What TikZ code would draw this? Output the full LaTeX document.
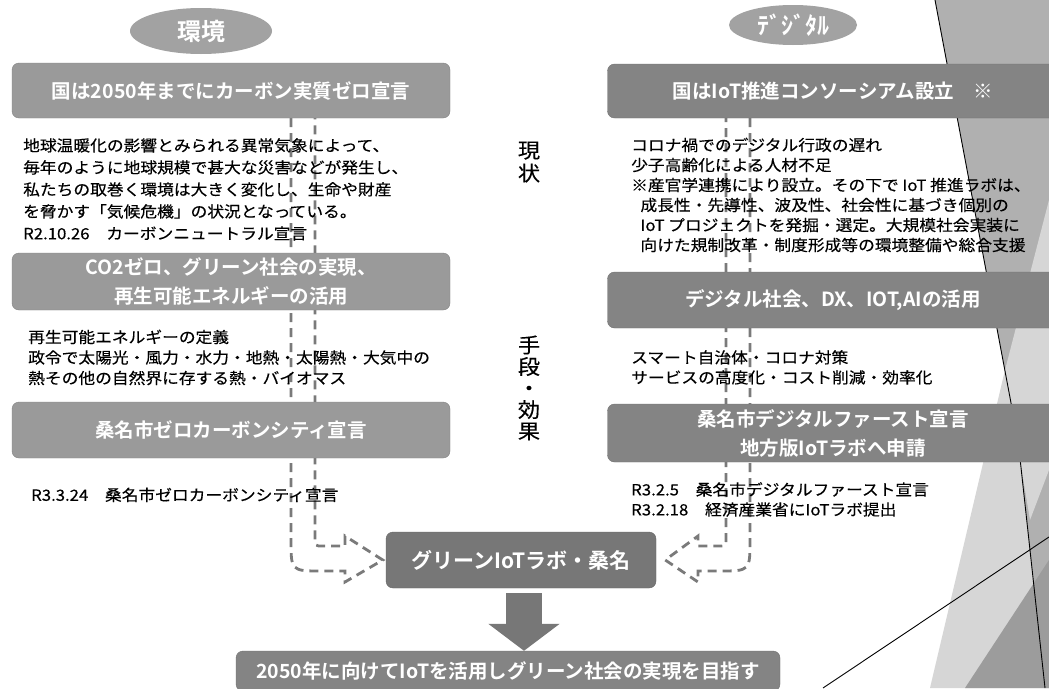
\documentclass[tikz,border=0pt]{standalone}
\usepackage{fontspec}
\setmainfont{Noto Sans CJK JP}[FakeStretch=1.08,FakeBold=0.3]
\newfontfamily\jpbold{Noto Sans CJK JP Bold}
\usetikzlibrary{positioning,shapes.geometric,arrows.meta,backgrounds}

\definecolor{lboxgrey}{HTML}{9A9A9A}
\definecolor{rboxgrey}{HTML}{848484}
\definecolor{labgrey}{HTML}{777777}
\definecolor{ovalgrey}{HTML}{A2A2A2}
\definecolor{dashgrey}{HTML}{7A7A7A}
\definecolor{slidegrey}{HTML}{B0B0B0}
\definecolor{slidelight}{HTML}{D6D6D6}
\definecolor{slidedark}{HTML}{9C9C9C}

\begin{document}
\begin{tikzpicture}[x=1pt,y=-1pt,
    oval/.style={ellipse,fill=ovalgrey,text=white,inner sep=0pt,font=\jpbold\fontsize{24}{26}\selectfont},
    lbox/.style={rectangle,rounded corners=7pt,fill=lboxgrey,draw=lboxgrey!85!black,text=white,align=center,inner sep=0pt,minimum width=438,font=\jpbold\fontsize{19.5}{29}\selectfont},
    rbox/.style={lbox,fill=rboxgrey,draw=rboxgrey!85!black,minimum width=451},
    bodytext/.style={anchor=north west,align=left,inner sep=0pt,font=\fontsize{15.5}{22}\selectfont},
    sidelabel/.style={align=center,inner sep=0pt,font=\fontsize{20.5}{23}\selectfont},
    hollowarrow/.style={draw=dashgrey,line width=2.8pt,dash pattern=on 9pt off 6pt},
    slideline/.style={draw=black,line width=0.9pt}]
  \useasboundingbox (0,0) rectangle (1049,688);

  % left column
  \node[oval,minimum width=142,minimum height=46] (kankyo) at (201,31) {環境};
  \node[lbox,minimum height=55] (kuni) at (231,90.5) {国は2050年までにカーボン実質ゼロ宣言};
  \node[bodytext] (genjoL) at (23,138) {地球温暖化の影響とみられる異常気象によって、\\
    毎年のように地球規模で甚大な災害などが発生し、\\
    私たちの取巻く環境は大きく変化し、生命や財産\\
    を脅かす「気候危機」の状況となっている。\\
    R2.10.26　カーボンニュートラル宣言};
  \node[lbox,minimum height=57] (co2) at (231,281.5) {CO2ゼロ、グリーン社会の実現、\\再生可能エネルギーの活用};
  \node[bodytext,font=\fontsize{15.5}{20.5}\selectfont] (teigi) at (28,329.5) {再生可能エネルギーの定義\\
    政令で太陽光・風力・水力・地熱・太陽熱・大気中の\\
    熱その他の自然界に存する熱・バイオマス};
  \node[lbox,minimum height=56] (zeroc) at (231,430) {桑名市ゼロカーボンシティ宣言};
  \node[bodytext] (zerodate) at (31,487.5) {R3.3.24　桑名市ゼロカーボンシティ宣言};

  % middle labels
  \node[sidelabel] (genjo) at (529,162) {現\\状};
  \node[sidelabel,font=\fontsize{20.5}{21.5}\selectfont] (shudan) at (529,388) {手\\段\\・\\効\\果};

  % right column
  \node[oval,minimum width=128,minimum height=40] (digital) at (793,25) {ﾃﾞｼﾞﾀﾙ};
  \node[rbox,minimum height=54] (consort) at (833,91) {国はIoT推進コンソーシアム設立　※};
  \node[bodytext,font=\fontsize{15.5}{20}\selectfont] (genjoR) at (631,137.5) {コロナ禍でのデジタル行政の遅れ\\
    少子高齢化による人材不足\\
    ※産官学連携により設立。その下で IoT 推進ラボは、\\
    \hspace*{0.6em}成長性・先導性、波及性、社会性に基づき個別の\\
    \hspace*{0.6em}IoT プロジェクトを発掘・選定。大規模社会実装に\\
    \hspace*{0.6em}向けた規制改革・制度形成等の環境整備や総合支援};
  \node[rbox,minimum height=56] (dx) at (833,300) {デジタル社会、DX、IOT,AIの活用};
  \node[bodytext,font=\fontsize{15.5}{20}\selectfont] (smart) at (631,350) {スマート自治体・コロナ対策\\
    サービスの高度化・コスト削減・効率化};
  \node[rbox,minimum height=58] (dfirst) at (833,433) {桑名市デジタルファースト宣言\\地方版IoTラボへ申請};
  \node[bodytext,font=\fontsize{15.5}{20}\selectfont] (ddate) at (631,482) {R3.2.5　桑名市デジタルファースト宣言\\
    R3.2.18　経済産業省にIoTラボ提出};

  % centre and goal
  \node[lbox,fill=labgrey,draw=labgrey!85!black,minimum width=270,minimum height=56,font=\jpbold\fontsize{21}{24}\selectfont] (lab) at (521,560) {グリーンIoTラボ・桑名};
  \node[lbox,fill=rboxgrey,draw=rboxgrey!85!black,minimum width=544,minimum height=40] (goal) at (508,671) {2050年に向けてIoTを活用しグリーン社会の実現を目指す};
  \coordinate (arrtop) at (524,593);
  \draw[labgrey,line width=36pt,-{Triangle[length=27pt,width=70pt]}] (arrtop) -- (arrtop |- goal.north);

  \begin{scope}[on background layer]
    % slide backdrop
    \fill[white] (0,0) rectangle (1049,688);
    \fill[slidegrey] (935,0) -- (1049,0) -- (1049,688) -- (1045,688) -- (1018,440) -- cycle;
    \fill[slidelight] (1049,200) -- (1049,470) -- (1030,520) -- (1005,370) -- cycle;
    \fill[slidelight] (1005,370) -- (1018,440) -- (1045,688) -- (930,688) -- cycle;
    \fill[slidedark] (1049,560) -- (1049,688) -- (965,688) -- cycle;
    \draw[slideline] (935,0) -- (1018,440) -- (1045,688);
    \draw[slideline] (823,688) -- (1049,537);
    % dashed hollow arrows into the lab
    \draw[hollowarrow] (291,0 |- kuni.south) -- (291,540) .. controls (291,571) .. (322,571) -- (345,571) -- (345,582)
      -- ([xshift=-3pt]lab.west) -- (345,536) -- (345,546) -- (323,546) .. controls (315,546) .. (315,538) -- (315,0 |- kuni.south);
    \draw[hollowarrow] (750,0 |- consort.south) -- (750,540) .. controls (750,571) .. (719,571) -- (698,571) -- (698,582)
      -- ([xshift=9pt]lab.east) -- (698,536) -- (698,546) -- (718,546) .. controls (726,546) .. (726,538) -- (726,0 |- consort.south);
  \end{scope}
\end{tikzpicture}
\end{document}
